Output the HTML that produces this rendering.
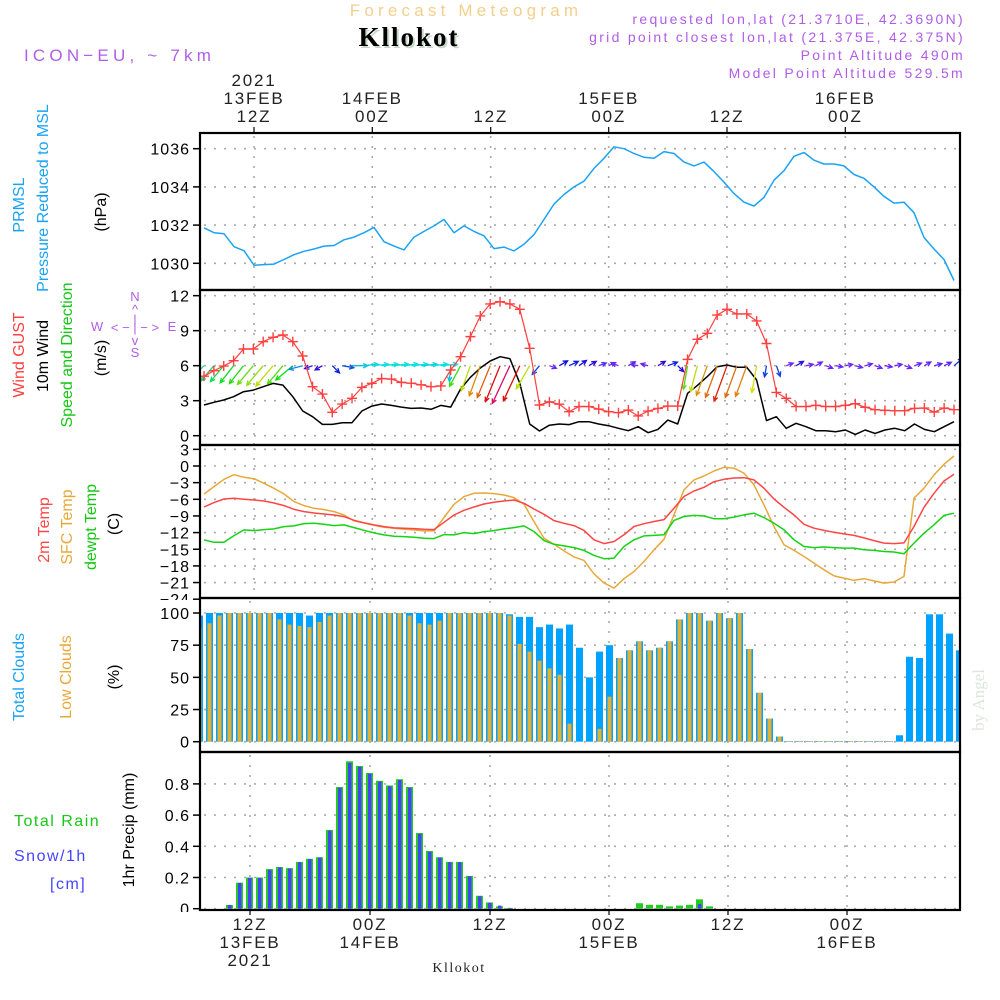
<!DOCTYPE html>
<html><head><meta charset="utf-8">
<style>
html,body{margin:0;padding:0;background:#fff;}
svg{display:block;font-family:"Liberation Sans","DejaVu Sans",sans-serif;}
</style></head>
<body>
<svg id="chart" width="1000" height="1000" viewBox="0 0 1000 1000" xmlns="http://www.w3.org/2000/svg">
<g id="hdr">
  <text x="466" y="16" text-anchor="middle" font-size="17" fill="#f3cf8c" letter-spacing="4.2">Forecast Meteogram</text>
  <text x="411" y="48" text-anchor="middle" font-size="27" font-weight="bold" font-family="Liberation Serif,serif" fill="#c8d8c8" letter-spacing="2">Kllokot</text>
  <text x="409" y="46" text-anchor="middle" font-size="27" font-weight="bold" font-family="Liberation Serif,serif" fill="#000" letter-spacing="2">Kllokot</text>
  <text x="24" y="61" font-size="17" fill="#b05de8" letter-spacing="4.2">ICON−EU, ~ 7km</text>
  <text x="965" y="24" text-anchor="end" font-size="14" fill="#b05de8" letter-spacing="2.3">requested lon,lat (21.3710E, 42.3690N)</text>
  <text x="965" y="42" text-anchor="end" font-size="14" fill="#b05de8" letter-spacing="2.3">grid point closest lon,lat (21.375E, 42.375N)</text>
  <text x="965" y="60" text-anchor="end" font-size="14" fill="#b05de8" letter-spacing="2.3">Point Altitude 490m</text>
  <text x="965" y="78" text-anchor="end" font-size="14" fill="#b05de8" letter-spacing="2.3">Model Point Altitude 529.5m</text>
</g>
<g id="plots"></g>
</svg>
<script>
// ---------- DATA ----------
const pressure = [1031.86,1031.6,1031.55,1030.87,1030.66,1029.9,1029.93,1029.96,1030.2,1030.45,1030.63,1030.75,1030.9,1030.93,1031.23,1031.37,1031.6,1031.88,1031.13,1030.9,1030.7,1031.37,1031.67,1031.96,1032.3,1031.6,1031.96,1031.67,1031.44,1030.77,1030.85,1030.65,1031.0,1031.5,1032.3,1033.1,1033.6,1034.0,1034.3,1034.97,1035.5,1036.1,1036.0,1035.75,1035.55,1035.5,1035.85,1035.75,1035.3,1035.1,1035.3,1034.8,1034.25,1033.65,1033.2,1033.0,1033.45,1034.35,1034.85,1035.6,1035.8,1035.4,1035.2,1035.2,1035.1,1034.65,1034.45,1034.0,1033.5,1033.15,1033.2,1032.65,1031.35,1030.75,1030.2,1029.1];
const windGust = [5.1,5.57,5.97,6.43,7.43,7.43,8.06,8.43,8.63,8.06,6.83,4.2,3.57,2.0,2.71,3.2,4.14,4.49,4.9,4.85,4.57,4.5,4.36,4.2,4.26,5.63,6.77,8.49,10.26,11.29,11.48,11.29,10.83,7.49,2.63,2.9,2.7,2.06,2.5,2.5,2.28,2.06,1.97,2.2,1.69,2.11,2.34,2.54,2.54,6.54,8.26,8.77,10.34,10.83,10.43,10.43,9.83,7.9,3.71,3.2,2.5,2.5,2.6,2.5,2.5,2.6,2.74,2.43,2.23,2.17,2.14,2.14,2.34,2.37,2.03,2.37,2.23];
const wind10m = [2.63,2.86,3.06,3.34,3.77,3.91,4.2,4.48,4.34,3.34,2.12,1.63,0.97,0.97,1.11,1.11,2.12,2.54,2.72,2.6,2.45,2.34,2.37,2.26,2.6,2.45,4.0,5.0,5.8,6.4,6.77,6.6,4.5,1.0,0.4,0.9,1.0,0.95,1.2,1.2,1.0,0.86,0.63,0.43,0.77,0.26,0.54,1.34,1.0,3.63,4.31,5.06,5.91,6.06,5.86,5.86,4.77,1.29,1.63,0.63,1.06,0.77,0.43,0.43,0.34,0.49,0.11,0.49,0.2,0.49,0.63,0.43,1.0,0.54,0.34,0.77,1.2];
const arrowAngle = [135,130,130,128,128,130,130,130,130,140,165,160,150,45,10,0,355,355,355,355,355,355,355,355,355,95,118,110,110,112,112,115,115,120,130,20,330,335,325,330,340,335,200,330,190,195,330,340,45,100,105,110,110,110,110,110,100,100,70,340,330,350,330,20,10,350,15,345,20,10,350,20,340,330,345,335,320];
const arrowSpeed = [2.7,3.0,3.2,3.4,3.6,3.9,4.1,4.3,3.8,3.5,2.0,1.0,1.0,1.3,1.6,2.3,2.4,2.5,2.5,2.6,2.5,2.5,2.4,2.5,2.5,2.3,3.7,4.3,5.3,5.7,6.5,7.0,6.5,4.3,1.5,0.8,1.2,1.3,1.1,1.0,0.9,0.8,0.8,0.9,0.8,0.8,1.0,1.3,1.0,3.8,4.3,5.2,5.6,6.3,5.6,5.4,4.4,1.5,1.5,0.8,1.0,0.8,0.8,0.8,0.8,0.8,0.8,0.8,0.8,0.8,0.8,0.8,0.8,0.8,0.9,0.9,1.5];
const temp2m = [-7.38,-6.6,-5.94,-5.82,-6.0,-6.12,-6.3,-6.66,-7.14,-7.8,-8.22,-8.46,-8.64,-8.82,-9.12,-9.78,-10.26,-10.62,-10.92,-11.16,-11.22,-11.28,-11.4,-11.46,-10.14,-8.82,-7.98,-7.38,-6.84,-6.54,-6.3,-6.12,-6.72,-7.74,-8.7,-9.84,-10.32,-10.74,-11.6,-13.3,-13.98,-13.6,-12.4,-10.9,-10.4,-10.0,-9.66,-7.6,-5.5,-4.5,-3.84,-2.82,-2.4,-2.16,-2.1,-2.5,-4.0,-5.94,-7.44,-8.82,-10.5,-11.2,-11.6,-11.94,-12.24,-12.5,-12.96,-13.44,-13.9,-13.98,-13.86,-10.9,-7.44,-4.92,-2.7,-1.5];
const tempSfc = [-5.04,-3.72,-2.4,-1.56,-2.04,-2.28,-3.12,-4.02,-5.04,-6.42,-7.14,-7.62,-7.86,-8.22,-8.82,-9.9,-10.26,-10.68,-11.04,-11.22,-11.4,-11.52,-11.7,-11.7,-9.3,-6.9,-5.52,-4.92,-4.86,-4.98,-5.22,-5.7,-6.9,-10.02,-13.02,-14.1,-15.3,-16.38,-17.0,-19.44,-21.06,-22.0,-20.3,-19.0,-17.2,-15.1,-13.2,-8.8,-4.3,-2.5,-1.8,-0.9,-0.24,-0.4,-1.3,-3.4,-7.0,-10.9,-14.2,-15.2,-16.3,-17.5,-18.7,-19.8,-20.2,-20.6,-20.3,-20.7,-21.1,-20.9,-19.9,-5.8,-4.0,-1.6,0.3,1.8];
const tempDew = [-13.32,-13.74,-13.74,-12.54,-11.52,-11.64,-11.46,-11.34,-10.92,-10.8,-10.38,-10.32,-10.5,-10.74,-10.62,-11.1,-11.58,-12.06,-12.42,-12.66,-12.72,-12.84,-13.02,-13.08,-12.36,-12.42,-12.0,-12.18,-11.82,-11.64,-11.34,-11.1,-10.8,-11.82,-13.44,-14.1,-14.4,-14.7,-15.2,-16.1,-16.7,-16.6,-14.5,-13.3,-12.6,-12.5,-12.4,-9.8,-9.1,-8.9,-9.0,-9.5,-9.5,-9.2,-8.8,-8.5,-9.3,-10.3,-11.5,-13.3,-14.5,-14.7,-14.6,-14.7,-14.8,-14.8,-15.1,-15.2,-15.4,-15.5,-15.8,-13.9,-12.1,-10.6,-8.9,-8.5];
const cloudTotal = [98,100,100,100,100,100,100,100,100,100,100,98,100,100,100,100,100,100,100,100,100,100,100,100,100,100,100,100,100,100,100,99,97,97,89,91,88,91,73,50,70,75,65,71,78,71,73,78,95,100,100,94,100,96,100,72,38,18,4,0.5,0.5,0.5,0.5,0.5,0.5,0.5,0.5,0.5,0.5,0.5,5,66,65,99,99,84,71];
const cloudLow = [88,92,98,100,100,100,100,100,95,91,90,89,93,98,100,100,100,100,100,100,100,98,92,91,94,100,100,100,100,100,100,98,76,70,63,57,52,14,0,0,10,35,65,71,78,71,73,78,95,100,100,94,100,96,100,72,38,18,4,0.5,0.5,0.5,0.5,0.5,0.5,0.5,0.5,0.5,0.5,0.5,0,0,0,0,0,0,0];
const precip = [0,0,0,0.024,0.167,0.2,0.2,0.254,0.267,0.26,0.30,0.32,0.33,0.505,0.78,0.945,0.915,0.87,0.82,0.79,0.83,0.78,0.485,0.37,0.33,0.30,0.30,0.21,0.083,0.04,0.015,0.005,0,0,0,0,0,0,0,0,0,0,0,0,0.035,0.025,0.025,0.015,0.02,0.025,0.06,0.015,0,0,0,0,0,0,0,0,0,0,0,0,0,0,0,0,0,0,0,0,0,0,0,0,0];
const snow = [0,0,0,0.024,0.165,0.198,0.198,0.25,0.265,0.258,0.298,0.318,0.328,0.5,0.775,0.935,0.91,0.865,0.815,0.785,0.825,0.775,0.48,0.365,0.328,0.298,0.298,0.208,0.08,0.038,0.02,0.005,0,0,0,0,0,0,0,0,0,0,0,0,0,0,0,0,0,0,0.03,0,0,0,0,0,0,0,0,0,0,0,0,0,0,0,0,0,0,0,0,0,0,0,0,0,0];
const pressTicks = [1030,1032,1034,1036];
const windTicks = [0,3,6,9,12];
const tempTicks = [3,0,-3,-6,-9,-12,-15,-18,-21,-24];
const cloudTicks = [0,25,50,75,100];
const precipTicks = [0,0.2,0.4,0.6,0.8];
const topLabels = [["2021","13FEB","12Z"],["14FEB","00Z"],["12Z"],["15FEB","00Z"],["12Z"],["16FEB","00Z"]];
const botLabels = [["12Z","13FEB","2021"],["00Z","14FEB"],["12Z"],["00Z","15FEB"],["12Z"],["00Z","16FEB"]];

// ---------- SCALES ----------
const X0 = 200, X1 = 960;
const gridXTop = [254,372.3,490.7,608.7,727,845.3];
const gridXBot = [250,370,490,609,728,847];
function lineX(i, n){ return 204 + i*(954-204)/(n-1); }
function barX(i){ return 199.5 + i*10; }
const yP = v => 148.7 + (1036 - v)*19.1;
const yW = v => 435.7 - v*11.67;
const yT = v => 466 - v*5.55;
const yC = v => 741.7 - v*1.287;
const yR = v => 908.7 - v*156;

const NS = "http://www.w3.org/2000/svg";
const root = document.getElementById('plots');
function el(tag, attrs, parent){
  const e = document.createElementNS(NS, tag);
  for (const k in attrs) e.setAttribute(k, attrs[k]);
  (parent||root).appendChild(e);
  return e;
}
function txt(x,y,s,attrs,parent){
  const t = el('text', Object.assign({x:x,y:y},attrs), parent);
  t.textContent = s;
  return t;
}

const defs = el('defs',{});
const panels = [[133,290],[290,445],[445,598],[598,752],[752,910]];
panels.forEach((p,k)=>{
  const c = el('clipPath',{id:'clip'+k},defs);
  el('rect',{x:X0,y:p[0],width:X1-X0,height:p[1]-p[0]},c);
  const c2 = el('clipPath',{id:'lclip'+k},defs);
  el('rect',{x:150,y:p[0]-2,width:50,height:p[1]-p[0]+4},c2);
});

function gridAndTicks(k, ticks, yf, fmt, gx){
  const g = el('g',{});
  
  
  const p = panels[k];
  ticks.forEach(t=>{
    const y = yf(t);
    if (y > p[0]+1 && y < p[1]-1) {
      const l = el('line',{x1:X0+4,x2:X1,y1:y,y2:y,stroke:'#aaa','stroke-width':1.6,'stroke-dasharray':'2 8'},g);
      
      
    }
    const tk = el('line',{x1:193,x2:X0,y1:y,y2:y,stroke:'#000','stroke-width':1.5},g);
    
    
    const lb = txt(190,y+6,fmt(t),{'text-anchor':'end','font-size':16,fill:'#000','letter-spacing':1,'clip-path':'url(#lclip'+k+')'},g);
    
    
  });
  gx.forEach(x=>{
    const l = el('line',{x1:x,x2:x,y1:p[0]+3,y2:p[1],stroke:'#aaa','stroke-width':1.6,'stroke-dasharray':'2 8'},g);
    
    
  });
  return g;
}

gridAndTicks(0, pressTicks, yP, v=>String(v), gridXTop);
gridAndTicks(1, windTicks, yW, v=>String(v), gridXTop);
gridAndTicks(2, tempTicks, yT, v=>v<0?'−'+Math.abs(v):String(v), gridXTop);
gridAndTicks(3, cloudTicks, yC, v=>String(v), gridXBot);
gridAndTicks(4, precipTicks, yR, v=>v===0?'0':v.toFixed(1), gridXBot);

function polyline(arr, yf, color, k, name, w){
  const pts = arr.map((v,i)=>lineX(i,arr.length).toFixed(1)+','+yf(v).toFixed(1)).join(' ');
  const pl = el('polyline',{points:pts,fill:'none',stroke:color,'stroke-width':w||1.5,'clip-path':'url(#clip'+k+')','stroke-linejoin':'round'});
  
  
  return pl;
}

polyline(pressure, yP, '#1aa3f5', 0, 'pressure-line');
polyline(wind10m, yW, '#000', 1, 'wind-10m-line');

function speedColor(s){
  const stops=[[0.5,275],[1.5,225],[2.5,180],[3.5,120],[4.5,58],[5.5,30],[6.5,0],[7.2,-35]];
  let h=stops[0][1];
  if (s>=stops[stops.length-1][0]) h=stops[stops.length-1][1];
  else for(let j=0;j<stops.length-1;j++){ if(s>=stops[j][0]&&s<stops[j+1][0]){const f=(s-stops[j][0])/(stops[j+1][0]-stops[j][0]);h=stops[j][1]+f*(stops[j+1][1]-stops[j][1]);}}
  h=(h+360)%360;
  return 'hsl('+h.toFixed(0)+',90%,'+(h>250&&h<300?'55%':'46%')+')';
}
const arrowG = el('g',{'clip-path':'url(#clip1)'});


arrowAngle.forEach((a,i)=>{
  const s = arrowSpeed[i];
  const x = lineX(i, arrowAngle.length), y = yW(6);
  const len = 3 + 5.5*s;
  const r = a*Math.PI/180;
  const tx = x + len*Math.cos(r), ty = y + len*Math.sin(r);
  const c = speedColor(s);
  const h1 = r + Math.PI - 0.45, h2 = r + Math.PI + 0.45, hl = 5;
  const d = 'M'+x.toFixed(1)+' '+y.toFixed(1)+'L'+tx.toFixed(1)+' '+ty.toFixed(1)+
    'M'+(tx+hl*Math.cos(h1)).toFixed(1)+' '+(ty+hl*Math.sin(h1)).toFixed(1)+'L'+tx.toFixed(1)+' '+ty.toFixed(1)+
    'L'+(tx+hl*Math.cos(h2)).toFixed(1)+' '+(ty+hl*Math.sin(h2)).toFixed(1);
  const p = el('path',{d:d,stroke:c,'stroke-width':1.3,fill:'none'},arrowG);
  
  
});
polyline(windGust, yW, '#ff4040', 1, 'wind-gust-line', 1.2);
const gustG = el('g',{'clip-path':'url(#clip1)'});


windGust.forEach((v,i)=>{
  const x=lineX(i,windGust.length), y=yW(v);
  const m = el('path',{d:'M'+(x-5)+' '+y+'h10M'+x+' '+(y-5)+'v10',stroke:'#ff4040','stroke-width':1.4},gustG);
  
  
});

polyline(tempSfc, yT, '#e8a838', 2, 'sfc-temp-line');
polyline(temp2m, yT, '#ff4545', 2, '2m-temp-line');
polyline(tempDew, yT, '#14d414', 2, 'dewpoint-line');

const cG = el('g',{'clip-path':'url(#clip3)'});


cloudTotal.forEach((v,i)=>{
  const x=barX(i);
  const b = el('rect',{x:x-3.5,y:yC(v),width:7,height:yC(0)-yC(v),fill:'#00a2ff'},cG);
  
  
});
cloudLow.forEach((v,i)=>{
  const x=barX(i);
  const b = el('rect',{x:x-2,y:yC(v),width:4,height:yC(0)-yC(v),fill:'#e8b030'},cG);
  
  
});

const rG = el('g',{'clip-path':'url(#clip4)'});


precip.forEach((v,i)=>{
  if(v<=0) return;
  const x=barX(i);
  const b = el('rect',{x:x-3.5,y:yR(v),width:7,height:yR(0)-yR(v),fill:'#22cc22'},rG);
  
  
});
snow.forEach((v,i)=>{
  if(v<=0) return;
  const x=barX(i);
  const b = el('rect',{x:x-1.5,y:yR(v),width:3.5,height:yR(0)-yR(v),fill:'#4444ff'},rG);
  
  
});

const fG = el('g',{});


panels.forEach(p=>{
  const r = el('rect',{x:X0,y:p[0],width:X1-X0,height:p[1]-p[0],fill:'none',stroke:'#000','stroke-width':2.2},fG);
  
  
});
const tG = el('g',{});


topLabels.forEach((lines,k)=>{
  const x = gridXTop[k];
  el('line',{x1:x,x2:x,y1:127,y2:133,stroke:'#000','stroke-width':1.2},tG);
  lines.forEach((s,j)=>{
    const y = 129 - 7 - (lines.length-1-j)*18;
    const t = txt(x, y, s, {'text-anchor':'middle','font-size':17,fill:'#222','letter-spacing':1.8},tG);
    
    
  });
});
const bG = el('g',{});


botLabels.forEach((lines,k)=>{
  const x = gridXBot[k];
  el('line',{x1:x,x2:x,y1:910,y2:915,stroke:'#000','stroke-width':1.2},bG);
  lines.forEach((s,j)=>{
    const t = txt(x, 930 + j*18, s, {'text-anchor':'middle','font-size':17,fill:'#222','letter-spacing':1.8},bG);
    
    
  });
});
const kb = txt(459, 972, 'Kllokot', {'text-anchor':'middle','font-size':14,'font-family':'Liberation Serif,serif',fill:'#222','letter-spacing':1.5});



function vlabel(cx, cy, s, color, name, size){
  const t = txt(0,0,s,{'text-anchor':'middle','font-size':size||16,fill:color,transform:'translate('+(cx+6)+','+cy+') rotate(-90)'});
  
  
}
vlabel(18,205,'PRMSL','#1aa3f5','pressure-title');
vlabel(42,198,'Pressure Reduced to MSL','#1aa3f5','pressure-subtitle');
vlabel(100,212,'(hPa)','#000','pressure-unit');
vlabel(18,355,'Wind GUST','#ff4040','gust-title');
vlabel(42,356,'10m Wind','#000','wind-title');
vlabel(66,355,'Speed and Direction','#14c814','wind-subtitle');
vlabel(100,358,'(m/s)','#000','wind-unit');
vlabel(43,530,'2m Temp','#ff4545','temp2m-title');
vlabel(66,527,'SFC Temp','#e8a838','sfc-temp-title');
vlabel(90,527,'dewpt Temp','#14c814','dewpt-title');
vlabel(113,524,'(C)','#000','temp-unit');
vlabel(18,677,'Total Clouds','#1aa3f5','total-clouds-title');
vlabel(65,677,'Low Clouds','#e8a838','low-clouds-title');
vlabel(113,677,'(%)','#000','clouds-unit');
vlabel(128,830,'1hr Precip (mm)','#000','precip-axis-title');
let t;
t = txt(14,826,'Total   Rain',{'font-size':16,fill:'#14c814','letter-spacing':1.5});  
t = txt(14,861,'Snow/1h',{'font-size':16,fill:'#4444ff','letter-spacing':1.5});  
t = txt(50,889,'[cm]',{'font-size':16,fill:'#4444ff','letter-spacing':1.5});  

const cp = el('g',{fill:'#b05de8','font-size':13,'text-anchor':'middle'});


txt(135,301,'N',{},cp); txt(135,314,'^',{},cp); txt(135,324,'|',{},cp);
txt(135,332,'< − | − >',{},cp); txt(97,331,'W',{},cp); txt(172,331,'E',{},cp);
txt(135,345,'v',{},cp); txt(135,357,'S',{},cp);

const wm = txt(0,0,'by Angel',{'font-size':17,'font-family':'Liberation Serif,serif',fill:'#dde6dd','text-anchor':'middle',transform:'translate(984,700) rotate(-90)'});


</script>
</body></html>
